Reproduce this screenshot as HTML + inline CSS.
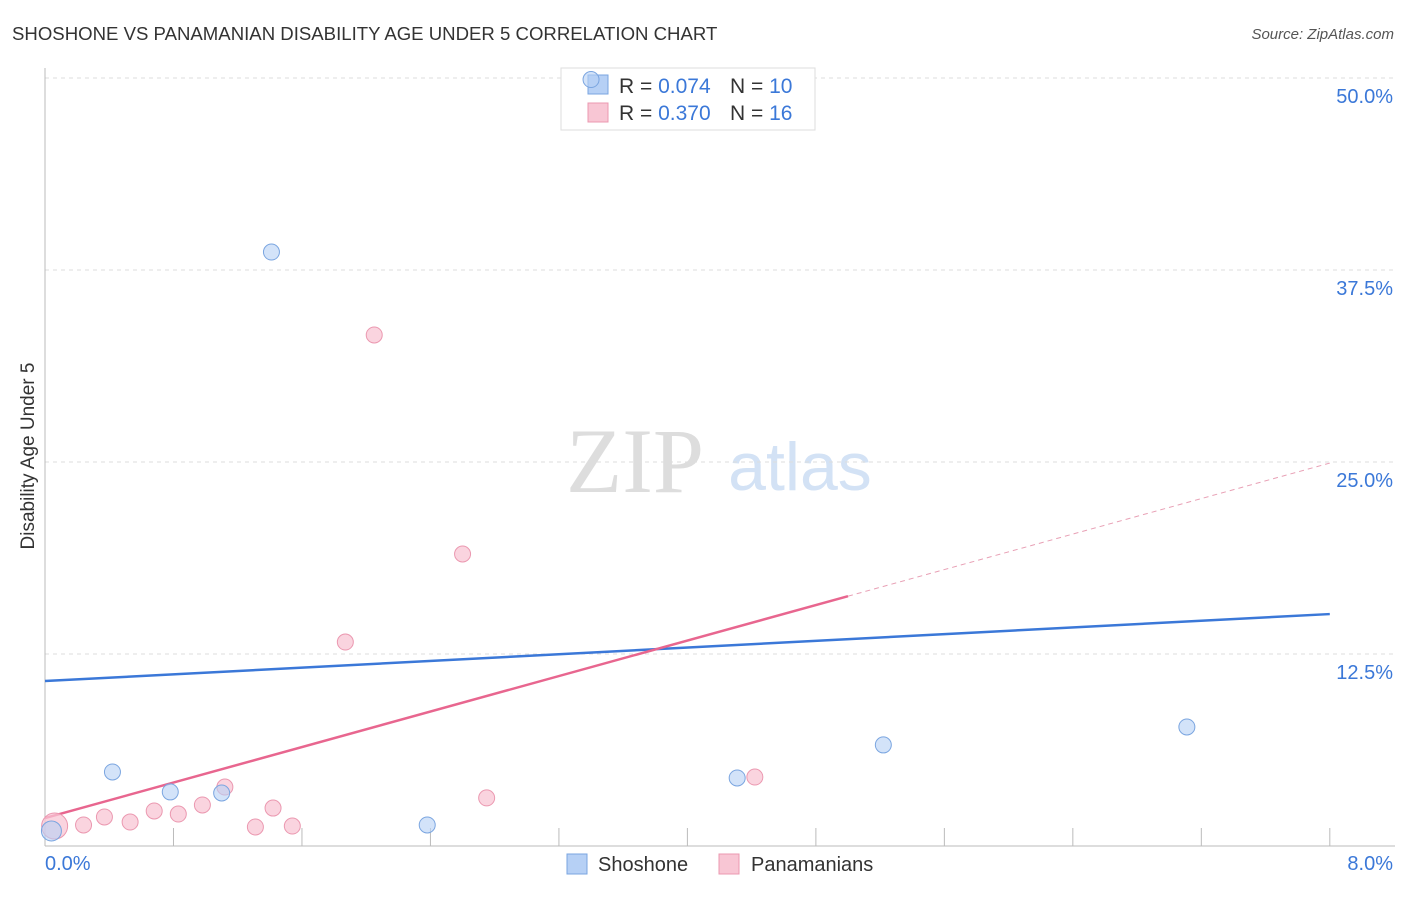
<!DOCTYPE html>
<html><head><meta charset="utf-8"><style>
body{margin:0;background:#fff;font-family:"Liberation Sans",sans-serif;}
</style></head><body>
<svg id="chart" width="1406" height="892">
<text x="12" y="40" font-size="18.6" fill="#333">SHOSHONE VS PANAMANIAN DISABILITY AGE UNDER 5 CORRELATION CHART</text>
<text x="1394" y="39" font-size="15" fill="#555" font-style="italic" text-anchor="end">Source: ZipAtlas.com</text>
<text x="34" y="456" font-size="19" fill="#333" text-anchor="middle" transform="rotate(-90 34 456)">Disability Age Under 5</text>
<text x="635" y="492" font-size="92" fill="#ddd" font-family="Liberation Serif,serif" text-anchor="middle">ZIP</text>
<text x="800" y="490" font-size="68" fill="#d3e2f5" text-anchor="middle">atlas</text>
<g id="grid"></g><g id="lines"></g>
<g>
<rect x="561" y="68" width="254" height="62" fill="#fff" stroke="#ddd"/>
<rect x="588" y="75" width="20" height="19" fill="#b6d0f5" stroke="#7aa5e0"/>
<rect x="588" y="103" width="20" height="19" fill="#f8c6d4" stroke="#eb98b0"/>
<text x="619" y="93" font-size="21" fill="#333">R = <tspan fill="#3b78d8">0.074</tspan></text>
<text x="730" y="93" font-size="21" fill="#333">N = <tspan fill="#3b78d8">10</tspan></text>
<text x="619" y="120" font-size="21" fill="#333">R = <tspan fill="#3b78d8">0.370</tspan></text>
<text x="730" y="120" font-size="21" fill="#333">N = <tspan fill="#3b78d8">16</tspan></text>
</g>
<g id="pts"></g>
<g>
<rect x="567" y="854" width="20" height="20" fill="#b6d0f5" stroke="#7aa5e0"/>
<text x="598" y="871" font-size="20" fill="#333">Shoshone</text>
<rect x="719" y="854" width="20" height="20" fill="#f8c6d4" stroke="#eb98b0"/>
<text x="751" y="871" font-size="20" fill="#333">Panamanians</text>
</g>
</svg>
<script>
const yTicks=[12.5,25,37.5,50];
const yTickLabels=["12.5%","25.0%","37.5%","50.0%"];
const shoX=[0.04,0.42,0.78,1.10,1.41,2.38,3.40,4.31,5.22,7.11];
const shoY=[0.98,4.82,3.52,3.45,38.67,1.37,49.9,4.43,6.58,7.75];
const panX=[0.06,0.24,0.37,0.53,0.68,0.83,0.98,1.12,1.31,1.42,1.54,1.87,2.05,2.60,2.75,4.42];
const panY=[1.30,1.37,1.89,1.56,2.28,2.08,2.67,3.84,1.24,2.47,1.30,13.28,33.27,19.01,3.13,4.49];
const shoTrend=[10.74,15.10];
const panTrend=[1.82,24.93];
const panSolidEnd=5.0;
const NS="http://www.w3.org/2000/svg";
const X=v=>45+v*160.6, Y=v=>846-v*192/12.5;
function mk(t,a,p){const e=document.createElementNS(NS,t);for(const k in a)e.setAttribute(k,a[k]);p.appendChild(e);return e;}
const g=document.getElementById('grid');
yTicks.forEach((t,i)=>{
 const l=mk('line',{x1:45,x2:1395,y1:Y(t),y2:Y(t),stroke:'#ddd','stroke-dasharray':'4,4'},g);
 
 
 const tx=mk('text',{x:1393,y:Y(t)+25,'font-size':20,fill:'#3b78d8','text-anchor':'end'},g);
 tx.textContent=yTickLabels[i];
 
 
});
const ax=mk('line',{x1:45,x2:45,y1:68,y2:846,stroke:'#bbb'},g);


const bx=mk('line',{x1:45,x2:1395,y1:846,y2:846,stroke:'#bbb'},g);


for(let i=1;i<=10;i++){const tk=mk('line',{x1:X(i*0.8),x2:X(i*0.8),y1:828,y2:846,stroke:'#bbb'},g);
 
 }
[["0.0%",45,'start'],["8.0%",1393,'end']].forEach(a=>{const t=mk('text',{x:a[1],y:870,'font-size':20,fill:'#3b78d8','text-anchor':a[2]},g);t.textContent=a[0];
 
 });
const L=document.getElementById('lines');
const bl=mk('line',{x1:X(0),y1:Y(shoTrend[0]),x2:X(8),y2:Y(shoTrend[1]),stroke:'#3b78d8','stroke-width':2.5},L);


const pe=panTrend[0]+(panTrend[1]-panTrend[0])*panSolidEnd/8;
const pl=mk('line',{x1:X(0),y1:Y(panTrend[0]),x2:X(panSolidEnd),y2:Y(pe),stroke:'#e8668f','stroke-width':2.5},L);


const pd=mk('line',{x1:X(panSolidEnd),y1:Y(pe),x2:X(8),y2:Y(panTrend[1]),stroke:'#e8a0b5','stroke-width':1,'stroke-dasharray':'5,4'},L);


const P=document.getElementById('pts');
panX.forEach((x,i)=>{const c=mk('circle',{cx:X(x),cy:Y(panY[i]),r:i==0?13:8,fill:'#f8c6d4','fill-opacity':0.75,stroke:'#eb98b0'},P);
 
 });
shoX.forEach((x,i)=>{const c=mk('circle',{cx:X(x),cy:Y(shoY[i]),r:i==0?10:8,fill:'#b6d0f5','fill-opacity':0.6,stroke:'#7aa5e0'},P);
 
 });
</script>
</body></html>
